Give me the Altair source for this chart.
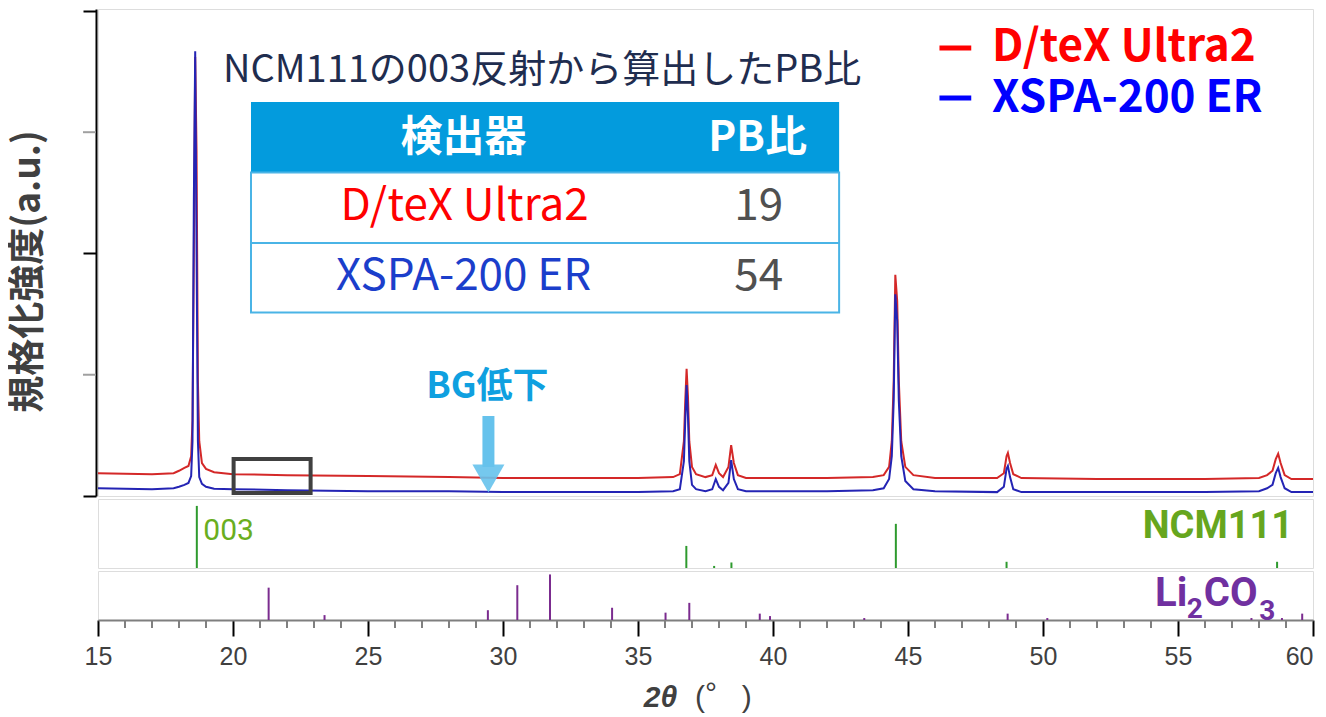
import altair as alt
import pandas as pd

# ---------------- data ----------------
two_theta = [15.0, 17.0, 17.8, 18.0, 18.2, 18.35, 18.45, 18.5, 18.55, 18.6,
             18.65, 18.7, 18.75, 18.85, 19.0, 19.3, 20.0, 22.0, 25.0, 28.0,
             30.0, 33.0, 35.0, 36.3, 36.55, 36.7, 36.75, 36.8, 36.85, 36.9,
             37.0, 37.15, 37.5, 37.75, 37.88, 38.0, 38.15, 38.35, 38.45, 38.55,
             38.7, 39.0, 42.0, 43.7, 44.1, 44.3, 44.4, 44.47, 44.53, 44.6,
             44.66, 44.75, 44.9, 45.2, 46.0, 48.3, 48.55, 48.65, 48.7, 48.78,
             48.9, 49.2, 52.0, 56.0, 58.0, 58.3, 58.5, 58.62, 58.71, 58.8,
             58.95, 59.2, 60.0]
dtex_ultra2 = [4.7, 4.5, 4.7, 5.2, 5.8, 6.2, 8.2, 15.5, 50.0, 90.5,
               71.0, 23.7, 11.3, 6.8, 5.6, 4.9, 4.5, 4.3, 4.1, 3.9,
               3.7, 3.7, 3.7, 3.9, 4.5, 11.3, 19.6, 26.2, 20.6, 11.3,
               6.0, 4.5, 3.9, 4.3, 6.4, 4.7, 3.9, 6.0, 10.5, 6.8,
               4.3, 3.7, 3.7, 3.9, 4.3, 6.0, 11.3, 23.7, 45.6, 40.2,
               23.7, 11.3, 6.0, 4.3, 3.7, 3.7, 4.7, 8.2, 8.9, 6.8,
               4.5, 3.7, 3.5, 3.5, 3.7, 4.3, 5.2, 7.6, 8.7, 6.8,
               4.3, 3.5, 3.5]
xspa_200er = [1.6, 1.4, 1.6, 1.9, 2.3, 2.7, 4.1, 11.3, 60.8, 91.7,
              50.5, 11.3, 3.9, 2.5, 1.9, 1.5, 1.4, 1.2, 1.0, 1.0,
              0.8, 0.8, 0.8, 1.0, 1.4, 7.2, 15.5, 22.9, 16.5, 7.2,
              2.3, 1.4, 1.0, 1.4, 3.5, 1.9, 1.2, 2.7, 7.4, 3.5,
              1.4, 1.0, 1.0, 1.2, 1.6, 3.5, 8.2, 19.6, 41.6, 36.1,
              19.6, 8.2, 3.1, 1.4, 1.0, 0.8, 1.9, 5.6, 6.2, 3.9,
              1.4, 0.8, 0.8, 0.8, 1.0, 1.6, 2.3, 4.7, 5.8, 3.9,
              1.6, 0.8, 0.8]

ncm_pos = [18.66, 36.79, 37.82, 38.46, 44.55, 48.65, 58.67]
ncm_int = [90, 32, 3, 8, 64, 9, 9]

li_pos = [21.32, 23.39, 29.44, 30.53, 31.74, 34.04, 36.02, 36.90, 39.51, 39.89,
          43.38, 48.69, 50.16, 57.72, 58.85, 59.6]
li_int = [66, 10, 20, 71, 93, 25, 15, 35, 13, 8,
          4, 13, 4, 4, 4, 13]

series_names = ["D/teX Ultra2", "XSPA-200 ER"]
pb_ratio = ["19", "54"]
table_header = ["検出器", "PB比"]
title_text = "NCM111の003反射から算出したPB比"
y_title = "規格化強度(a.u.)"
x_major = list(range(15, 61, 5))
x_minor = [v for v in range(15, 61) if v % 5 != 0]
y_major = [0, 50, 100]
y_minor = [25, 75]

# ---------------- helpers: reference pixel -> data coords ----------------
def X(px):
    return 15 + (px - 98) * 45 / 1223


def YM(py):  # main panel
    return (495 - py) / 4.85


def YN(py):  # NCM111 panel
    return (567 - py) / 0.69


def YL(py):  # Li2CO3 panel
    return (619 - py) / 0.49


W = 1215
H_MAIN, H_NCM, H_LI = 487, 69, 49
JP = "Noto Sans CJK JP"

xs = alt.Scale(domain=[15, 60], nice=False, zero=False)
ys_main = alt.Scale(domain=[0, 100.4], nice=False, zero=False)
ys_stick = alt.Scale(domain=[0, 100], nice=False, zero=False)

y_axis = alt.Axis(
    values=y_major, labels=False, grid=False,
    tickSize=13, tickWidth=2, offset=2, tickColor="#000000",
    domainColor="#000000", domainWidth=2,
    title=y_title, titleFont=JP, titleFontSize=37, titleFontWeight="bold",
    titleColor="#404040", titlePadding=35, titleY=262,
)
x_axis = alt.Axis(
    values=x_major, tickSize=16, tickColor="#000000",
    tickWidth=2, domainColor="#7F7F7F", domainWidth=2, grid=False,
    labelFont="Liberation Sans", labelFontSize=25, labelColor="#404040",
    labelPadding=8, labelOverlap=False, labelFlush=False,
    labelAlign={"condition": {"test": "datum.value === 60", "value": "right"}, "value": "center"},
    title=None,
)

# per panel: (x axis, y axis, y scale)
PANELS = {
    "main": (None, y_axis, ys_main),
    "ncm": (None, None, ys_stick),
    "li": (x_axis, None, ys_stick),
}


def ex(panel, field="x"):
    return alt.X(f"{field}:Q", scale=xs, axis=PANELS[panel][0])


def ey(panel, field="y"):
    return alt.Y(f"{field}:Q", scale=PANELS[panel][2], axis=PANELS[panel][1])


def text_layer(df, panel, **mk):
    return alt.Chart(df).mark_text(**mk).encode(
        x=ex(panel), y=ey(panel), text="t:N", color=alt.Color("c:N", scale=None),
    )


# ---------------- main panel ----------------
spec = pd.DataFrame({"tt": two_theta, "red": dtex_ultra2, "blue": xspa_200er})
red_line = alt.Chart(spec).mark_line(color="#D42828", strokeWidth=2).encode(
    x=ex("main", "tt"), y=ey("main", "red"))
blue_line = alt.Chart(spec).mark_line(color="#2424B4", strokeWidth=2).encode(
    x=ex("main", "tt"), y=ey("main", "blue"))
y_minor_ticks = alt.Chart(pd.DataFrame({"v": y_minor})).mark_rule(color="#A0A0A0", strokeWidth=2).encode(
    x=alt.value(-15), x2=alt.value(-2), y=ey("main", "v"))

box = alt.Chart(pd.DataFrame({"x": [X(234.5)], "x2": [X(312)], "y": [YM(458)], "y2": [YM(492)]})
                ).mark_rect(filled=False, color="#404040", strokeWidth=4).encode(
    x=ex("main"), x2="x2:Q", y=ey("main"), y2="y2:Q")

arrow_col = "#66C2EC"
shaft = alt.Chart(pd.DataFrame({"x": [X(491)], "y": [YM(415)], "y2": [YM(466)]})
                  ).mark_rule(color=arrow_col, strokeWidth=12).encode(
    x=ex("main"), y=ey("main"), y2="y2:Q")
head = alt.Chart(pd.DataFrame({"x": [X(491)], "y": [YM(477.5)]})).mark_point(
    shape="M -1 -0.875 L 1 -0.875 L 0 0.875 Z", size=1024, filled=True,
    color=arrow_col, opacity=0.9, strokeWidth=0).encode(x=ex("main"), y=ey("main"))
bg_text = text_layer(pd.DataFrame({"x": [X(490)], "y": [YM(386)], "t": ["BG低下"], "c": ["#0FA0E0"]}),
                     "main", font=JP, fontSize=36, fontWeight="bold", align="center", baseline="middle")

title = text_layer(pd.DataFrame({"x": [X(545)], "y": [YM(70)], "t": [title_text], "c": ["#1F2D4F"]}),
                   "main", font=JP, fontSize=38, align="center", baseline="middle")

# table
head_rect = alt.Chart(pd.DataFrame({"x": [X(252)], "x2": [X(844)], "y": [YM(101)], "y2": [YM(171.5)]})
                      ).mark_rect(color="#039BDD").encode(
    x=ex("main"), x2="x2:Q", y=ey("main"), y2="y2:Q")
body_rect = alt.Chart(pd.DataFrame({"x": [X(252)], "x2": [X(844)], "y": [YM(171.5)], "y2": [YM(311.5)]})
                      ).mark_rect(filled=False, color="#4AB4E6", strokeWidth=2).encode(
    x=ex("main"), x2="x2:Q", y=ey("main"), y2="y2:Q")
row_line = alt.Chart(pd.DataFrame({"x": [X(252)], "x2": [X(844)], "y": [YM(242)]})
                     ).mark_rule(color="#4AB4E6", strokeWidth=2).encode(
    x=ex("main"), x2="x2:Q", y=ey("main"))
head_text = text_layer(pd.DataFrame({"x": [X(466), X(762)], "y": [YM(137)] * 2,
                                     "t": table_header, "c": ["#FFFFFF"] * 2}),
                       "main", font=JP, fontSize=42, fontWeight="bold", align="center", baseline="middle")
row_text = text_layer(pd.DataFrame({"x": [X(467), X(466), X(763), X(763)],
                                    "y": [YM(206), YM(276), YM(206), YM(276)],
                                    "t": series_names + pb_ratio,
                                    "c": ["#FF0000", "#1B3ECB", "#505050", "#505050"]}),
                      "main", font=JP, fontSize=44, align="center", baseline="middle")

# legend
leg_rules = alt.Chart(pd.DataFrame({"x": [X(945)] * 2, "x2": [X(977)] * 2, "y": [YM(47), YM(97)],
                                    "c": ["#FF0000", "#0000FF"]})
                      ).mark_rule(strokeWidth=5).encode(
    x=ex("main"), x2="x2:Q", y=ey("main"), color=alt.Color("c:N", scale=None))
leg_text = text_layer(pd.DataFrame({"x": [X(998)] * 2, "y": [YM(47), YM(98)],
                                    "t": series_names, "c": ["#FF0000", "#0000FF"]}),
                      "main", font=JP, fontSize=44, fontWeight="bold", align="left", baseline="middle")

main = alt.layer(red_line, blue_line, y_minor_ticks, box, shaft, head, bg_text, title,
                 head_rect, body_rect, row_line, head_text, row_text,
                 leg_rules, leg_text).properties(width=W, height=H_MAIN)

# ---------------- NCM111 reference panel ----------------
ncm = pd.DataFrame({"x": ncm_pos, "h": ncm_int})
ncm_sticks = alt.Chart(ncm).mark_rule(color="#2E9A2E", strokeWidth=2).encode(
    x=ex("ncm"), y=ey("ncm", "h"), y2=alt.datum(0))
ncm_003 = text_layer(pd.DataFrame({"x": [X(204)], "y": [YN(530)], "t": ["003"], "c": ["#6AAE1E"]}),
                     "ncm", font="Roboto", fontSize=30, align="left", baseline="middle")
ncm_lab = text_layer(pd.DataFrame({"x": [X(1301)], "y": [YN(526)], "t": ["NCM111"], "c": ["#66A61E"]}),
                     "ncm", font="Roboto", fontSize=38, fontWeight="bold", align="right", baseline="middle")
ncm_panel = alt.layer(ncm_sticks, ncm_003, ncm_lab).properties(width=W, height=H_NCM)

# ---------------- Li2CO3 reference panel ----------------
li = pd.DataFrame({"x": li_pos, "h": li_int})
li_sticks = alt.Chart(li).mark_rule(color="#7B2C8F", strokeWidth=2).encode(
    x=ex("li"), y=ey("li", "h"), y2=alt.datum(0))
x_minor_ticks = alt.Chart(pd.DataFrame({"x": x_minor})).mark_rule(color="#808080", strokeWidth=2).encode(
    x=ex("li"), y=alt.value(H_LI), y2=alt.value(H_LI + 8))
li_big = text_layer(pd.DataFrame({"x": [X(1162), X(1211)], "y": [YL(593)] * 2, "t": ["Li", "CO"],
                                  "c": ["#7030A0"] * 2}),
                    "li", font="Roboto", fontSize=40, fontWeight="bold", align="left", baseline="middle")
li_sub = text_layer(pd.DataFrame({"x": [X(1194), X(1267)], "y": [YL(609), YL(611)], "t": ["2", "3"],
                                  "c": ["#7030A0"] * 2}),
                    "li", font="Roboto", fontSize=28, fontWeight="bold", align="left", baseline="middle")
xt_main = text_layer(pd.DataFrame({"x": [X(681)], "y": [YL(697)], "t": ["2θ"], "c": ["#404040"]}),
                     "li", font="Liberation Sans", fontSize=30, fontWeight="bold", fontStyle="italic",
                     align="right", baseline="middle")
xt_par = text_layer(pd.DataFrame({"x": [X(704), X(715), X(751)], "y": [YL(697), YL(693), YL(697)],
                                  "t": ["(", "°", ")"], "c": ["#404040"] * 3}),
                    "li", font="Liberation Sans", fontSize=30, align="center", baseline="middle")
li_panel = alt.layer(li_sticks, x_minor_ticks, li_big, li_sub, xt_main, xt_par).properties(width=W, height=H_LI)

chart = alt.vconcat(main, ncm_panel, li_panel, spacing=3, bounds="flush").properties(
    padding={"left": 0, "top": 0, "right": 0, "bottom": 0}
).configure_view(stroke="#A6A6A6", strokeWidth=2).configure(background="white")

chart.save("out.html", embed_options={"renderer": "svg", "actions": False})
